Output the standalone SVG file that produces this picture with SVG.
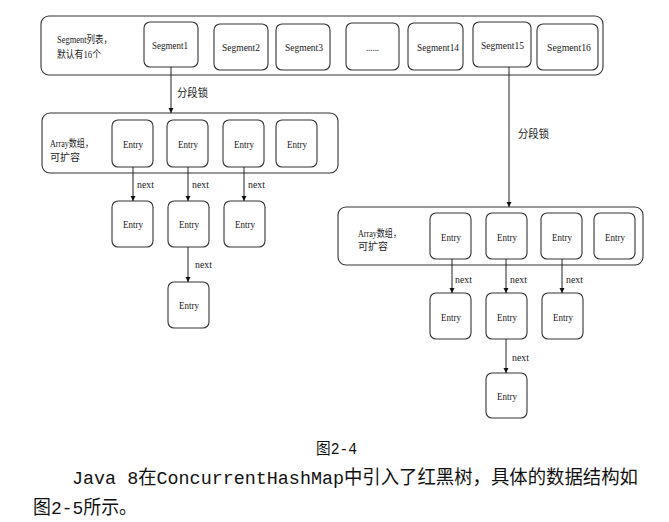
<svg xmlns="http://www.w3.org/2000/svg" width="669" height="522" viewBox="0 0 669 522">
<style>
.c{fill:#fff;stroke:#333;stroke-width:1.1}
.b{fill:#fff;stroke:#333;stroke-width:1.1}
.t{font-family:"Liberation Serif","Noto Sans CJK SC",serif;font-size:11px;fill:#222}
.z{font-size:10px}
.l{stroke:#222;stroke-width:1;fill:none}
.p{font-family:"Liberation Mono","Noto Sans CJK SC",monospace;fill:#111}
</style>
<defs>
<marker id="ah" markerWidth="6" markerHeight="6" refX="5" refY="3" orient="auto" markerUnits="userSpaceOnUse">
<path d="M0,0.5 L5,3 L0,5.5 Z" fill="#111"/>
</marker>
</defs>
<rect width="669" height="522" fill="#fff"/>
<g id="segment-list">
<rect class="c" x="41" y="16" width="562" height="59" rx="8"/>
<text class="t z" x="57" y="43" textLength="55" lengthAdjust="spacingAndGlyphs">Segment列表，</text>
<text class="t z" x="57" y="58" textLength="44" lengthAdjust="spacingAndGlyphs">默认有16个</text>
</g>
<g id="seg1"><rect class="b" x="144" y="22" width="54" height="45" rx="6"/><text class="t" x="152" y="49" textLength="36" lengthAdjust="spacingAndGlyphs">Segment1</text></g>
<g id="seg2"><rect class="b" x="214" y="24" width="54" height="46" rx="6"/><text class="t" x="222" y="51" textLength="38" lengthAdjust="spacingAndGlyphs">Segment2</text></g>
<g id="seg3"><rect class="b" x="276" y="24" width="54" height="46" rx="6"/><text class="t" x="285" y="51" textLength="38" lengthAdjust="spacingAndGlyphs">Segment3</text></g>
<g id="seg-dots"><rect class="b" x="346" y="23" width="53" height="47" rx="6"/><text class="t" x="366" y="51" textLength="13" lengthAdjust="spacingAndGlyphs" font-size="8">......</text></g>
<g id="seg14"><rect class="b" x="408" y="23" width="55" height="47" rx="6"/><text class="t" x="417" y="51" textLength="42" lengthAdjust="spacingAndGlyphs">Segment14</text></g>
<g id="seg15"><rect class="b" x="473" y="22" width="58" height="45" rx="6"/><text class="t" x="481" y="49" textLength="43" lengthAdjust="spacingAndGlyphs">Segment15</text></g>
<g id="seg16"><rect class="b" x="537" y="24" width="61" height="46" rx="6"/><text class="t" x="547" y="51" textLength="44" lengthAdjust="spacingAndGlyphs">Segment16</text></g>

<g id="array-left">
<rect class="c" x="42" y="113" width="296" height="60" rx="8"/>
<text class="t z" x="50" y="147" textLength="43" lengthAdjust="spacingAndGlyphs">Array数组，</text>
<text class="t z" x="50" y="161">可扩容</text>
</g>
<g id="la1"><rect class="b" x="112" y="120" width="41" height="47" rx="6"/><text class="t" x="123" y="148" textLength="20" lengthAdjust="spacingAndGlyphs">Entry</text></g>
<g id="la2"><rect class="b" x="167" y="120" width="41" height="47" rx="6"/><text class="t" x="178" y="148" textLength="20" lengthAdjust="spacingAndGlyphs">Entry</text></g>
<g id="la3"><rect class="b" x="223" y="120" width="41" height="47" rx="6"/><text class="t" x="234" y="148" textLength="20" lengthAdjust="spacingAndGlyphs">Entry</text></g>
<g id="la4"><rect class="b" x="276" y="120" width="41" height="47" rx="6"/><text class="t" x="287" y="148" textLength="20" lengthAdjust="spacingAndGlyphs">Entry</text></g>
<g id="lb1"><rect class="b" x="112" y="201" width="41" height="46" rx="6"/><text class="t" x="123" y="228" textLength="20" lengthAdjust="spacingAndGlyphs">Entry</text></g>
<g id="lb2"><rect class="b" x="168" y="201" width="41" height="46" rx="6"/><text class="t" x="179" y="228" textLength="20" lengthAdjust="spacingAndGlyphs">Entry</text></g>
<g id="lb3"><rect class="b" x="224" y="201" width="41" height="46" rx="6"/><text class="t" x="235" y="228" textLength="20" lengthAdjust="spacingAndGlyphs">Entry</text></g>
<g id="lc2"><rect class="b" x="168" y="282" width="41" height="46" rx="6"/><text class="t" x="179" y="309" textLength="20" lengthAdjust="spacingAndGlyphs">Entry</text></g>

<g id="array-right">
<rect class="c" x="338" y="207" width="305" height="58" rx="8"/>
<text class="t z" x="358" y="237" textLength="43" lengthAdjust="spacingAndGlyphs">Array数组，</text>
<text class="t z" x="358" y="250">可扩容</text>
</g>
<g id="ra1"><rect class="b" x="430" y="213" width="41" height="46" rx="6"/><text class="t" x="441" y="241" textLength="20" lengthAdjust="spacingAndGlyphs">Entry</text></g>
<g id="ra2"><rect class="b" x="486" y="213" width="41" height="46" rx="6"/><text class="t" x="497" y="241" textLength="20" lengthAdjust="spacingAndGlyphs">Entry</text></g>
<g id="ra3"><rect class="b" x="541" y="213" width="41" height="46" rx="6"/><text class="t" x="552" y="241" textLength="20" lengthAdjust="spacingAndGlyphs">Entry</text></g>
<g id="ra4"><rect class="b" x="594" y="213" width="41" height="46" rx="6"/><text class="t" x="605" y="241" textLength="20" lengthAdjust="spacingAndGlyphs">Entry</text></g>
<g id="rb1"><rect class="b" x="430" y="293" width="41" height="46" rx="6"/><text class="t" x="441" y="321" textLength="20" lengthAdjust="spacingAndGlyphs">Entry</text></g>
<g id="rb2"><rect class="b" x="486" y="293" width="41" height="46" rx="6"/><text class="t" x="497" y="321" textLength="20" lengthAdjust="spacingAndGlyphs">Entry</text></g>
<g id="rb3"><rect class="b" x="542" y="293" width="41" height="46" rx="6"/><text class="t" x="553" y="321" textLength="20" lengthAdjust="spacingAndGlyphs">Entry</text></g>
<g id="rc2"><rect class="b" x="486" y="373" width="41" height="45" rx="6"/><text class="t" x="497" y="400" textLength="20" lengthAdjust="spacingAndGlyphs">Entry</text></g>

<g id="connectors">
<line class="l" x1="171" y1="67" x2="171" y2="113" marker-end="url(#ah)"/>
<text class="t" x="177" y="97" textLength="31" lengthAdjust="spacingAndGlyphs">分段锁</text>
<line class="l" x1="509" y1="67" x2="509" y2="207" marker-end="url(#ah)"/>
<text class="t" x="518" y="138" textLength="31" lengthAdjust="spacingAndGlyphs">分段锁</text>
<line class="l" x1="133" y1="167" x2="133" y2="201" marker-end="url(#ah)"/>
<line class="l" x1="188" y1="167" x2="188" y2="201" marker-end="url(#ah)"/>
<line class="l" x1="244" y1="167" x2="244" y2="201" marker-end="url(#ah)"/>
<line class="l" x1="188" y1="247" x2="188" y2="282" marker-end="url(#ah)"/>
<text class="t" x="137" y="188" textLength="17" lengthAdjust="spacingAndGlyphs">next</text>
<text class="t" x="192" y="188" textLength="17" lengthAdjust="spacingAndGlyphs">next</text>
<text class="t" x="248" y="188" textLength="17" lengthAdjust="spacingAndGlyphs">next</text>
<text class="t" x="195" y="268" textLength="17" lengthAdjust="spacingAndGlyphs">next</text>
<line class="l" x1="452" y1="259" x2="452" y2="293" marker-end="url(#ah)"/>
<line class="l" x1="506" y1="259" x2="506" y2="293" marker-end="url(#ah)"/>
<line class="l" x1="562" y1="259" x2="562" y2="293" marker-end="url(#ah)"/>
<line class="l" x1="506" y1="339" x2="506" y2="373" marker-end="url(#ah)"/>
<text class="t" x="455" y="283" textLength="17" lengthAdjust="spacingAndGlyphs">next</text>
<text class="t" x="510" y="283" textLength="17" lengthAdjust="spacingAndGlyphs">next</text>
<text class="t" x="566" y="283" textLength="17" lengthAdjust="spacingAndGlyphs">next</text>
<text class="t" x="512" y="361" textLength="17" lengthAdjust="spacingAndGlyphs">next</text>
</g>

<g id="caption">
<text class="p" x="316" y="454" font-size="16" textLength="41" lengthAdjust="spacingAndGlyphs">图2-4</text>
<text class="p" x="72" y="484" font-size="19" textLength="566" lengthAdjust="spacingAndGlyphs">Java 8在ConcurrentHashMap中引入了红黑树，具体的数据结构如</text>
<text class="p" x="33" y="514" font-size="19" textLength="104" lengthAdjust="spacingAndGlyphs">图2-5所示。</text>
</g>
</svg>
